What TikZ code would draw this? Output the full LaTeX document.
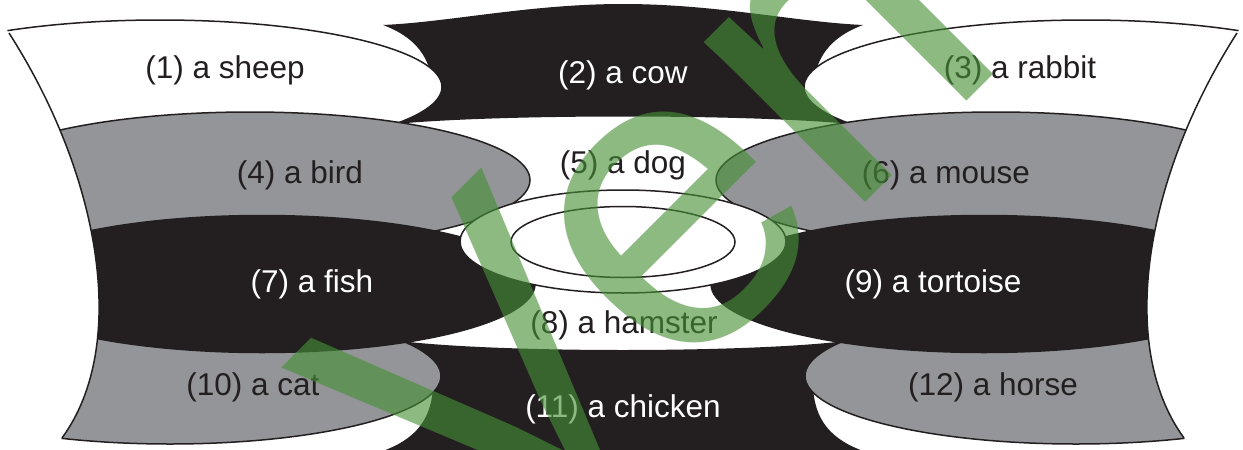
\documentclass[tikz,border=0pt]{standalone}
\usepackage{fontspec}
\setmainfont{Liberation Sans}
\definecolor{ink}{RGB}{35,31,32}
\definecolor{midgray}{RGB}{147,149,152}
\definecolor{wmgreen}{RGB}{70,144,53}
\tikzset{
  outl/.style={draw=ink, line width=1.5pt},
  lbl/.style={anchor=base, inner sep=0pt, font=\fontsize{31.5}{36}\selectfont, text=ink},
  lblw/.style={lbl, text=white},
}
\newcommand\mysidecol{%
  \begin{scope}
    \clip (0,19) -- (9,33) .. controls (100,175) and (130,345) .. (62,438) -- (48,457) -- (640,457) -- (640,-10) -- (0,-10) -- cycle;
    \path[outl, fill=white] (160,87) ellipse [x radius=282, y radius=67];
    \path[outl, fill=midgray] (250,180) ellipse [x radius=280, y radius=68];
    \path[outl, fill=midgray] (170,376) ellipse [x radius=271, y radius=68];
    \path[outl, fill=ink] (262,284) ellipse [x radius=273, y radius=68.5];
  \end{scope}
  \draw[outl] (9,33) .. controls (100,175) and (130,345) .. (62,438);
}
\begin{document}
\begin{tikzpicture}[x=1pt,y=-1pt]
\useasboundingbox (0,0) rectangle (1243,450);
\clip (0,0) rectangle (1243,450);
\fill[white] (0,0) rectangle (1243,450);
% (2) cow band
\fill[ink] (383,25) .. controls (450,22) and (530,4) .. (623,4)
  .. controls (716,4) and (796,22) .. (863,25)
  .. controls (831,37) and (814,57) .. (813,92) -- (831,115) -- (851,124)
  .. controls (746,114) and (500,114) .. (395,124) -- (415,115) -- (433,92)
  .. controls (432,57) and (415,37) .. (383,25) -- cycle;
% (11) chicken band
\fill[ink] (400,341) .. controls (500,353) and (746,353) .. (846,341)
  -- (821,360) -- (813,385) .. controls (814,420) and (831,440) .. (866,452)
  -- (866,460) -- (380,460) -- (380,452)
  .. controls (415,440) and (432,420) .. (433,385) -- (425,360) -- cycle;
% side columns
\mysidecol
\begin{scope}[xshift=1246pt, xscale=-1]
\mysidecol
\end{scope}
% centre ellipses
\path[outl, fill=white] (623,241.5) ellipse [x radius=163, y radius=51.5];
\path[outl] (623,242) ellipse [x radius=112, y radius=35.5];
% labels
\node[lbl]  (t1)  at (225,78)  {(1) a sheep};
\node[lblw] (t2)  at (623,83)  {(2) a cow};
\node[lbl]  (t3)  at (1020,78) {(3) a rabbit};
\node[lbl]  (t4)  at (300,183) {(4) a bird};
\node[lbl]  (t5)  at (623,173) {(5) a dog};
\node[lbl]  (t6)  at (946,183) {(6) a mouse};
\node[lblw] (t7)  at (312,292) {(7) a fish};
\node[lbl]  (t8)  at (624,333) {(8) a hamster};
\node[lblw] (t9)  at (933,292) {(9) a tortoise};
\node[lbl]  (t10) at (253,395) {(10) a cat};
\node[lblw] (t11) at (623,417) {(11) a chicken};
\node[lbl]  (t12) at (993,395) {(12) a horse};
% watermark
\node[anchor=base west, inner sep=0pt, rotate=45, text=wmgreen, text opacity=0.62,
      font=\fontsize{430}{430}\selectfont] (wm) at (489.5,578.5) {Veri};
\end{tikzpicture}
\end{document}
